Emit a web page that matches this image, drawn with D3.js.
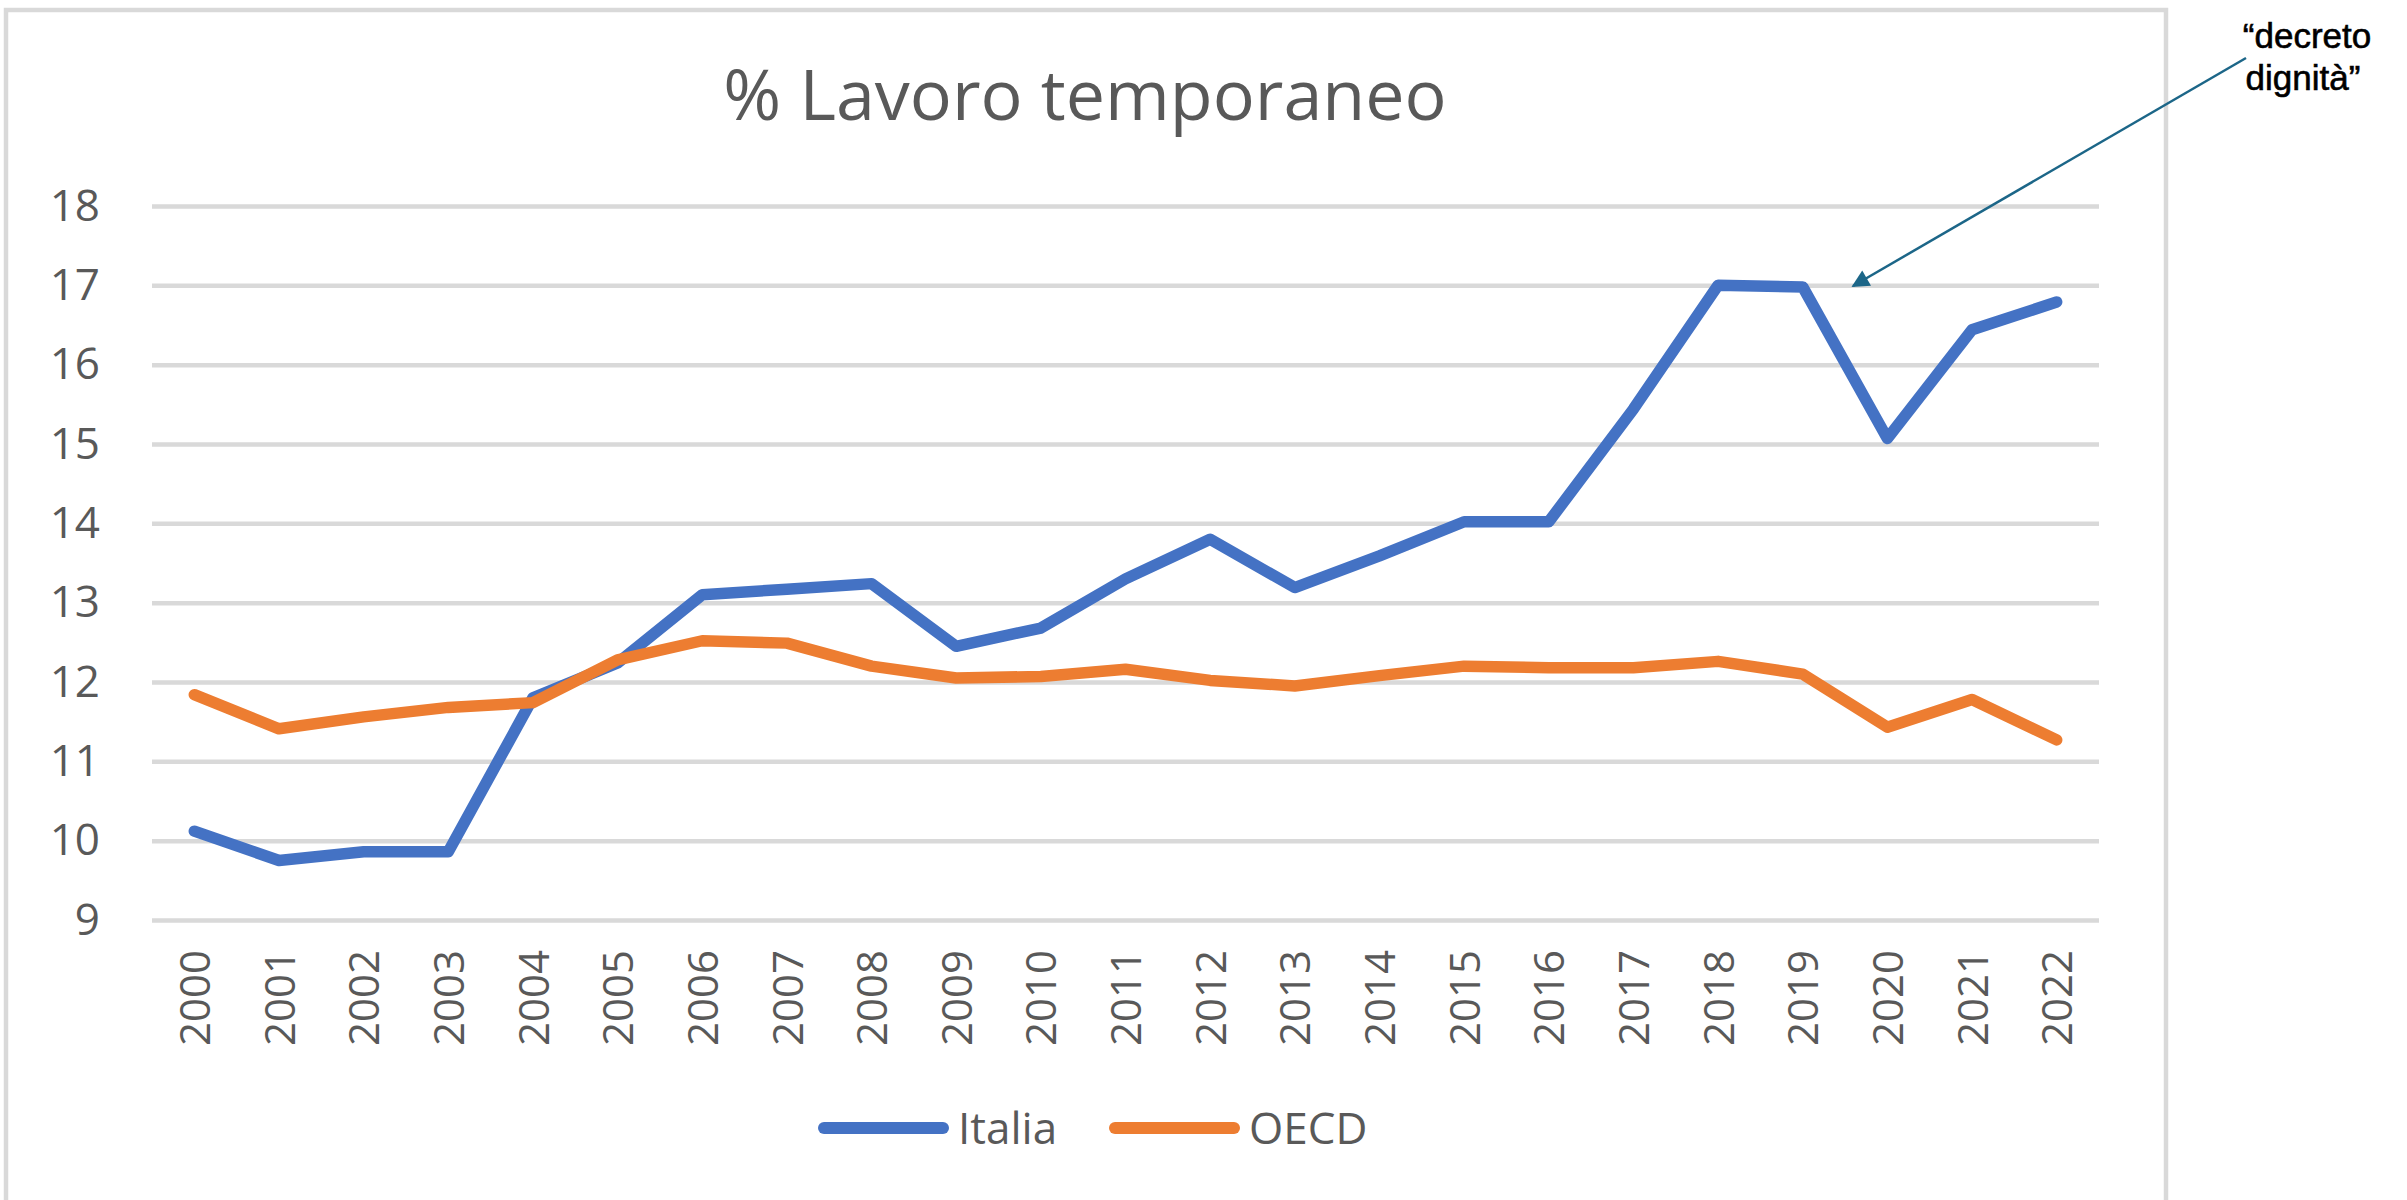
<!DOCTYPE html>
<html>
<head>
<meta charset="utf-8">
<script src="https://cdn.jsdelivr.net/npm/d3@7"></script>
<style>
  body { margin: 0; background: #fff; }
  svg { display: block; }
  text { font-family: "Open Sans", sans-serif; fill: #595959; }
</style>
</head>
<body>
<svg id="chart" width="2407" height="1200"></svg>
<script>
// data
const years = ['2000','2001','2002','2003','2004','2005','2006','2007','2008','2009','2010',
  '2011','2012','2013','2014','2015','2016','2017','2018','2019','2020','2021','2022'];
const italia = [10.12, 9.75, 9.86, 9.86, 11.8, 12.24, 13.1, 13.17, 13.24, 12.45, 12.68,
  13.3, 13.8, 13.19, 13.59, 14.02, 14.02, 15.44, 17.0, 16.98, 15.07, 16.44, 16.79];
const oecd = [11.84, 11.41, 11.56, 11.68, 11.74, 12.28, 12.52, 12.49, 12.2, 12.05, 12.07,
  12.16, 12.02, 11.95, 12.08, 12.2, 12.18, 12.18, 12.26, 12.1, 11.43, 11.78, 11.27];
const yTicks = [9, 10, 11, 12, 13, 14, 15, 16, 17, 18];
const seriesNames = ['Italia', 'OECD'];
const colors = ['#4472C4', '#ED7D31'];

const svg = d3.select('#chart');

// chart frame
svg.append('rect')
  .attr('x', 6).attr('y', 10)
  .attr('width', 2160).attr('height', 1250)
  .attr('fill', 'none')
  .attr('stroke', '#d9d9d9')
  .attr('stroke-width', 4.5);

const plotLeft = 152, plotRight = 2099, plotTop = 206, plotBottom = 920;

const x = d3.scalePoint().domain(years).range([plotLeft, plotRight]).padding(0.5);
const y = d3.scaleLinear().domain([9, 18]).range([plotBottom, plotTop]);

// title
svg.append('text')
  .attr('x', 1085).attr('y', 120)
  .attr('text-anchor', 'middle')
  .style('font-size', '70px')
  .text('% Lavoro temporaneo');

// y axis + gridlines
const yAxis = svg.append('g')
  .attr('transform', `translate(${plotLeft},0)`)
  .call(d3.axisLeft(y).tickValues(yTicks).tickSizeInner(-(plotRight - plotLeft)).tickSizeOuter(0).tickPadding(52));
yAxis.select('.domain').remove();
yAxis.selectAll('.tick line').attr('stroke', '#d9d9d9').attr('stroke-width', 4.5);
yAxis.selectAll('.tick text')
  .style('font-size', '44px')
  .style('font-family', '"Open Sans", sans-serif')
  .attr('fill', '#595959');

// x axis, rotated labels
const xAxis = svg.append('g')
  .attr('transform', `translate(0,${plotBottom})`)
  .call(d3.axisBottom(x).tickSize(0));
xAxis.select('.domain').remove();
xAxis.selectAll('.tick text')
  .attr('transform', 'rotate(-90)')
  .attr('x', -30).attr('y', 0).attr('dy', '0.36em')
  .attr('text-anchor', 'end')
  .style('font-size', '42px')
  .style('font-family', '"Open Sans", sans-serif')
  .attr('fill', '#595959');

// lines
const line = d3.line()
  .x((d, i) => x(years[i]))
  .y(d => y(d));

[italia, oecd].forEach((vals, k) => {
  svg.append('path')
    .datum(vals)
    .attr('d', line)
    .attr('fill', 'none')
    .attr('stroke', colors[k])
    .attr('stroke-width', 11.5)
    .attr('stroke-linejoin', 'round')
    .attr('stroke-linecap', 'round');
});

// legend
const legendItems = [
  { name: seriesNames[0], color: colors[0], x: 818 },
  { name: seriesNames[1], color: colors[1], x: 1109 }
];
const legend = svg.append('g');
legendItems.forEach(d => {
  legend.append('line')
    .attr('x1', d.x + 6).attr('x2', d.x + 125)
    .attr('y1', 1128).attr('y2', 1128)
    .attr('stroke', d.color)
    .attr('stroke-width', 12)
    .attr('stroke-linecap', 'round');
  legend.append('text')
    .attr('x', d.x + 140).attr('y', 1128)
    .attr('dy', '0.36em')
    .style('font-size', '44px')
    .text(d.name);
});

// annotation
svg.append('defs').append('marker')
  .attr('id', 'arrow')
  .attr('viewBox', '0 0 10 10')
  .attr('refX', 9).attr('refY', 5)
  .attr('markerWidth', 8).attr('markerHeight', 7)
  .attr('markerUnits', 'strokeWidth')
  .attr('orient', 'auto')
  .append('path')
  .attr('d', 'M0,0 L10,5 L0,10 z')
  .attr('fill', '#1c6688');

svg.append('line')
  .attr('x1', 2246).attr('y1', 58)
  .attr('x2', 1853).attr('y2', 286)
  .attr('stroke', '#1c6688')
  .attr('stroke-width', 2.5)
  .attr('marker-end', 'url(#arrow)');

const note = svg.append('text')
  .attr('text-anchor', 'middle')
  .style('font-family', '"Liberation Sans", Arial, sans-serif')
  .style('font-size', '35px')
  .style('fill', '#000')
  .style('stroke', '#000')
  .style('stroke-width', 0.6);
note.append('tspan').attr('x', 2307).attr('y', 48).text('\u201Cdecreto');
note.append('tspan').attr('x', 2303).attr('y', 90).text('dignit\u00E0\u201D');
</script>
</body>
</html>
